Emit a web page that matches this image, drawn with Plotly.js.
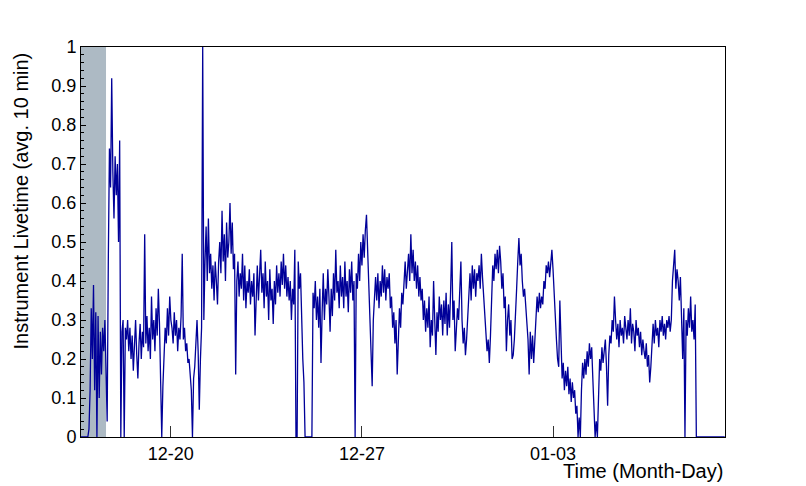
<!DOCTYPE html>
<html><head><meta charset="utf-8">
<script src="https://cdn.plot.ly/plotly-3.0.1.min.js"></script>
<style>html,body{margin:0;padding:0;background:#fff}#chart{width:806px;height:486px}</style>
</head><body><div id="chart"></div>
<script>
// Hourly samples of the 10-min averaged livetime, starting at startTime
const startTime = '2020-12-16T17:00:00Z';
const stepMinutes = 60;
const livetime = [
0,0,0,0,0,0,0,0.02,0.12,0.33,
0.2,0.39,0.12,0.32,0.0,0.31,0.1,0.27,0.16,0.28,
0.22,0.3,0.19,0.04,0.45,0.74,0.64,0.92,0.68,0.56,
0.72,0.62,0.7,0.5,0.76,0.0,0.27,0.3,0.0,0.28,
0.25,0.3,0.22,0.28,0.2,0.26,0.17,0.23,0.3,0.21,
0.15,0.24,0.29,0.2,0.27,0.23,0.52,0.24,0.31,0.22,
0.28,0.2,0.36,0.25,0.3,0.22,0.33,0.26,0.38,0.29,
0.1,0.0,0.13,0.22,0.28,0.24,0.33,0.26,0.36,0.3,
0.28,0.24,0.32,0.26,0.3,0.22,0.28,0.25,0.31,0.47,
0.25,0.28,0.22,0.24,0.19,0.2,0.15,0.12,0.0,0.15,
0.18,0.24,0.3,0.22,0.07,0.2,0.28,1.0,0.3,0.45,
0.54,0.4,0.56,0.42,0.47,0.38,0.44,0.35,0.45,0.4,
0.34,0.45,0.5,0.42,0.58,0.45,0.52,0.4,0.55,0.46,
0.5,0.6,0.47,0.55,0.43,0.47,0.16,0.4,0.45,0.36,
0.42,0.38,0.47,0.35,0.44,0.33,0.4,0.37,0.43,0.34,
0.4,0.36,0.42,0.26,0.38,0.44,0.35,0.41,0.48,0.37,
0.42,0.33,0.45,0.36,0.4,0.3,0.43,0.35,0.38,0.29,
0.4,0.34,0.44,0.37,0.42,0.36,0.45,0.39,0.47,0.38,
0.44,0.36,0.41,0.35,0.4,0.3,0.38,0.34,0.48,0.0,
0.0,0.45,0.38,0.42,0.28,0.2,0.14,0.0,0.0,0.0,
0.0,0.0,0.0,0.0,0.37,0.33,0.4,0.3,0.36,0.28,
0.38,0.19,0.32,0.42,0.3,0.38,0.34,0.43,0.36,0.27,
0.38,0.31,0.42,0.35,0.48,0.37,0.4,0.33,0.44,0.36,
0.41,0.33,0.45,0.36,0.4,0.32,0.43,0.37,0.45,0.35,
0.4,0.0,0.42,0.38,0.47,0.4,0.5,0.44,0.52,0.46,
0.53,0.57,0.48,0.4,0.3,0.22,0.13,0.3,0.37,0.41,
0.35,0.42,0.33,0.4,0.36,0.44,0.37,0.43,0.35,0.41,
0.38,0.42,0.33,0.36,0.28,0.32,0.24,0.3,0.16,0.27,
0.33,0.28,0.37,0.34,0.4,0.45,0.38,0.42,0.47,0.4,
0.52,0.42,0.48,0.4,0.45,0.38,0.44,0.36,0.41,0.35,
0.38,0.3,0.35,0.27,0.33,0.28,0.36,0.23,0.3,0.26,
0.4,0.3,0.21,0.32,0.27,0.36,0.3,0.34,0.26,0.35,
0.29,0.37,0.26,0.34,0.28,0.38,0.5,0.3,0.35,0.22,
0.27,0.33,0.3,0.36,0.45,0.3,0.24,0.28,0.21,0.25,
0.3,0.36,0.42,0.35,0.44,0.38,0.43,0.36,0.42,0.4,
0.44,0.38,0.47,0.41,0.36,0.3,0.27,0.22,0.25,0.19,
0.26,0.36,0.44,0.4,0.47,0.43,0.48,0.42,0.49,0.45,
0.38,0.42,0.33,0.36,0.22,0.3,0.34,0.26,0.3,0.2,
0.21,0.25,0.3,0.38,0.45,0.51,0.44,0.47,0.4,0.36,
0.38,0.33,0.3,0.25,0.16,0.27,0.2,0.26,0.19,0.24,
0.3,0.36,0.32,0.37,0.33,0.36,0.34,0.4,0.38,0.44,
0.42,0.45,0.41,0.44,0.48,0.43,0.36,0.3,0.25,0.2,
0.18,0.35,0.22,0.15,0.19,0.12,0.17,0.13,0.18,0.11,
0.15,0.09,0.14,0.1,0.12,0.06,0.08,0.0,0.05,0.0,
0.12,0.19,0.15,0.2,0.16,0.22,0.18,0.24,0.2,0.23,
0.15,0.07,0.0,0.04,0.0,0.1,0.2,0.17,0.23,0.19,
0.22,0.25,0.18,0.08,0.21,0.26,0.24,0.3,0.27,0.36,
0.3,0.25,0.29,0.23,0.3,0.26,0.28,0.24,0.31,0.27,
0.25,0.3,0.26,0.33,0.24,0.29,0.27,0.22,0.3,0.26,
0.28,0.23,0.27,0.21,0.25,0.22,0.2,0.24,0.18,0.21,
0.14,0.18,0.25,0.29,0.24,0.3,0.26,0.28,0.23,0.3,
0.27,0.31,0.26,0.29,0.25,0.3,0.28,0.31,0.27,0.3,
0.4,0.45,0.48,0.38,0.43,0.4,0.35,0.41,0.33,0.2,
0.33,0.0,0.3,0.26,0.33,0.28,0.36,0.27,0.3,0.25,
0.34,0.0,0,0,0,0,0,0,0,0,
0,0,0,0,0,0,0,0,0,0,0,0,0,0,0,0,0
];
const shadedPeriod = ['2020-12-16 17:00:00', '2020-12-17 15:00:00'];
const axisRange = ['2020-12-16 17:00:00', '2021-01-09 07:12:00'];
const tickDates = ['2020-12-20', '2020-12-27', '2021-01-03'];
const tickLabels = ['12-20', '12-27', '01-03'];
const yTitle = 'Instrument Livetime (avg. 10 min)';
const xTitle = 'Time (Month-Day)';

function fmt(d) {
  const p = n => String(n).padStart(2, '0');
  return d.getUTCFullYear() + '-' + p(d.getUTCMonth() + 1) + '-' + p(d.getUTCDate()) + ' ' +
         p(d.getUTCHours()) + ':' + p(d.getUTCMinutes()) + ':00';
}
const t0 = new Date(startTime).getTime();
const times = livetime.map((_, i) => fmt(new Date(t0 + i * stepMinutes * 60000)));

const font = 'Liberation Sans, Arial, Helvetica, sans-serif';
const trace = {
  x: times, y: livetime, type: 'scatter', mode: 'lines',
  line: {color: '#000099', width: 1.3},
  hoverinfo: 'skip'
};
const layout = {
  width: 806, height: 486,
  margin: {l: 81, r: 81, t: 47, b: 49, pad: 0},
  paper_bgcolor: '#ffffff', plot_bgcolor: '#ffffff',
  showlegend: false,
  font: {family: font, color: '#000', size: 18},
  xaxis: {
    type: 'date', range: axisRange,
    tickvals: tickDates, ticktext: tickLabels,
    ticks: 'inside', ticklen: 11, tickcolor: '#333', tickwidth: 1,
    showgrid: false, zeroline: false,
    showline: true, linecolor: '#000', linewidth: 1, mirror: true,
    tickfont: {family: font, size: 18, color: '#000'},
    layer: 'below traces'
  },
  yaxis: {
    range: [0, 1], dtick: 0.1, tick0: 0,
    ticks: 'inside', ticklen: 5, tickcolor: '#000', tickwidth: 1,
    minor: {dtick: 0.02, ticks: 'inside', ticklen: 3, tickcolor: '#000', showgrid: false},
    showgrid: false, zeroline: false,
    showline: true, linecolor: '#000', linewidth: 1, mirror: true,
    tickfont: {family: font, size: 18, color: '#000'},
    layer: 'below traces'
  },
  shapes: [{
    type: 'rect', xref: 'x', yref: 'paper',
    x0: shadedPeriod[0], x1: shadedPeriod[1], y0: 0, y1: 1,
    fillcolor: '#adbac4', line: {width: 0}, layer: 'below'
  }],
  annotations: [
    {text: yTitle, xref: 'paper', yref: 'paper', x: 0, y: 1, xanchor: 'center', yanchor: 'top',
     xshift: -61, yshift: -4, textangle: -90, showarrow: false,
     font: {family: font, size: 20, color: '#000'}},
    {text: xTitle, xref: 'paper', yref: 'paper', x: 1, y: 0, xanchor: 'right', yanchor: 'top',
     yshift: -21, showarrow: false,
     font: {family: font, size: 20, color: '#000'}}
  ]
};
Plotly.newPlot('chart', [trace], layout, {staticPlot: true, displayModeBar: false});
</script>
</body></html>
